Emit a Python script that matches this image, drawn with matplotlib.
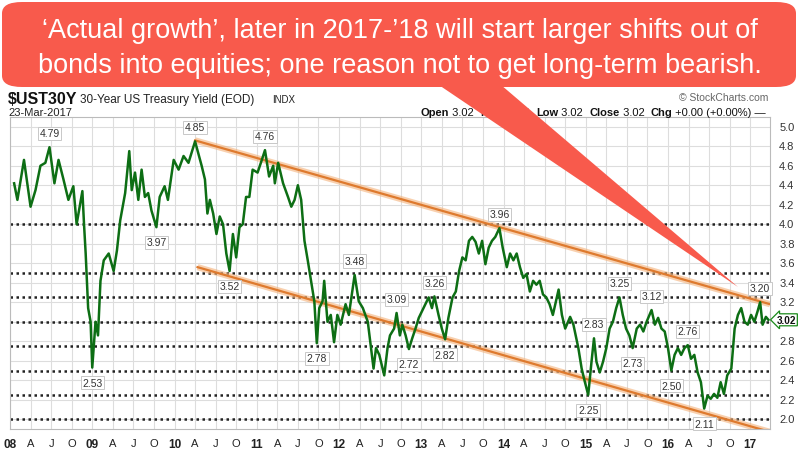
import numpy as np
import matplotlib.pyplot as plt
from matplotlib.patches import FancyBboxPatch, Polygon

plt.rcParams['font.family'] = ['Liberation Sans', 'DejaVu Sans']

# 30-year yield (decimal year, percent)
years = [2008.05, 2008.09, 2008.17, 2008.25, 2008.31, 2008.37, 2008.43, 2008.48, 2008.54, 2008.59,
         2008.65, 2008.71, 2008.77, 2008.81, 2008.88, 2008.90, 2008.92, 2008.95, 2008.98, 2009.00,
         2009.04, 2009.07, 2009.10, 2009.14, 2009.20, 2009.26, 2009.30, 2009.34, 2009.40, 2009.45,
         2009.48, 2009.52, 2009.56, 2009.60, 2009.64, 2009.68, 2009.72, 2009.78, 2009.82, 2009.88,
         2009.92, 2009.99, 2010.05, 2010.11, 2010.17, 2010.25, 2010.33, 2010.37, 2010.40, 2010.43,
         2010.47, 2010.51, 2010.55, 2010.59, 2010.63, 2010.67, 2010.71, 2010.75, 2010.79, 2010.83,
         2010.87, 2010.91, 2010.95, 2011.01, 2011.05, 2011.10, 2011.15, 2011.20, 2011.22, 2011.26,
         2011.32, 2011.38, 2011.42, 2011.46, 2011.50, 2011.54, 2011.58, 2011.62, 2011.66, 2011.70,
         2011.73, 2011.76, 2011.80, 2011.82, 2011.86, 2011.90, 2011.94, 2011.98, 2012.02, 2012.08,
         2012.12, 2012.19, 2012.24, 2012.29, 2012.35, 2012.39, 2012.42, 2012.45, 2012.49, 2012.55,
         2012.59, 2012.62, 2012.67, 2012.70, 2012.74, 2012.77, 2012.81, 2012.85, 2012.89, 2012.93,
         2012.97, 2013.01, 2013.05, 2013.09, 2013.13, 2013.16, 2013.21, 2013.25, 2013.29, 2013.33,
         2013.38, 2013.42, 2013.46, 2013.50, 2013.54, 2013.58, 2013.62, 2013.66, 2013.70, 2013.74,
         2013.78, 2013.82, 2013.86, 2013.90, 2013.95, 2013.99, 2014.04, 2014.08, 2014.12, 2014.16,
         2014.20, 2014.24, 2014.28, 2014.32, 2014.36, 2014.40, 2014.44, 2014.48, 2014.52, 2014.56,
         2014.60, 2014.67, 2014.71, 2014.75, 2014.81, 2014.85, 2014.91, 2014.95, 2014.99, 2015.03,
         2015.07, 2015.10, 2015.13, 2015.17, 2015.21, 2015.25, 2015.29, 2015.33, 2015.37, 2015.41,
         2015.45, 2015.49, 2015.53, 2015.57, 2015.62, 2015.66, 2015.70, 2015.74, 2015.80, 2015.84,
         2015.88, 2015.92, 2015.96, 2016.00, 2016.04, 2016.08, 2016.12, 2016.16, 2016.20, 2016.24,
         2016.28, 2016.32, 2016.36, 2016.40, 2016.44, 2016.48, 2016.52, 2016.56, 2016.60, 2016.64,
         2016.68, 2016.72, 2016.77, 2016.81, 2016.85, 2016.89, 2016.93, 2016.97, 2017.01, 2017.05,
         2017.09, 2017.12, 2017.15, 2017.19, 2017.22]
yields = [4.42, 4.25, 4.66, 4.18, 4.35, 4.60, 4.63, 4.79, 4.42, 4.66,
          4.46, 4.25, 4.39, 4.00, 4.34, 4.00, 3.70, 3.14, 3.00, 2.53,
          3.00, 2.86, 3.42, 3.63, 3.70, 3.52, 3.73, 4.04, 4.32, 4.75,
          4.35, 4.53, 4.25, 4.56, 4.28, 4.32, 4.14, 3.97, 4.28, 4.39,
          4.25, 4.66, 4.56, 4.70, 4.63, 4.85, 4.60, 4.46, 4.11, 4.25,
          4.11, 3.90, 4.08, 4.00, 3.70, 3.52, 3.90, 3.66, 3.97, 4.00,
          4.28, 4.28, 4.56, 4.53, 4.63, 4.76, 4.49, 4.60, 4.42, 4.63,
          4.42, 4.28, 4.18, 4.25, 4.40, 4.25, 3.83, 3.63, 3.42, 3.21,
          2.78, 3.14, 3.21, 3.42, 3.00, 3.07, 2.79, 3.07, 2.97, 3.18,
          3.07, 3.48, 3.21, 3.14, 3.00, 2.73, 2.52, 2.73, 2.66, 2.45,
          2.73, 2.86, 2.93, 3.09, 2.86, 2.97, 2.86, 2.72, 2.83, 2.93,
          3.04, 3.11, 3.18, 3.25, 3.14, 3.26, 3.07, 2.93, 2.82, 3.04,
          3.25, 3.31, 3.52, 3.66, 3.63, 3.83, 3.87, 3.82, 3.70, 3.83,
          3.59, 3.76, 3.83, 3.87, 3.96, 3.76, 3.56, 3.70, 3.63, 3.70,
          3.56, 3.45, 3.49, 3.31, 3.42, 3.38, 3.42, 3.28, 3.25, 3.18,
          3.07, 3.33, 3.07, 2.93, 3.05, 2.97, 2.73, 2.52, 2.38, 2.25,
          2.59, 2.83, 2.59, 2.48, 2.59, 2.73, 2.93, 3.00, 3.14, 3.25,
          3.07, 2.93, 2.86, 2.73, 2.93, 2.97, 2.90, 3.00, 3.12, 2.97,
          3.04, 2.93, 2.90, 2.73, 2.50, 2.66, 2.73, 2.66, 2.73, 2.76,
          2.62, 2.66, 2.48, 2.38, 2.11, 2.24, 2.21, 2.26, 2.22, 2.38,
          2.26, 2.45, 2.52, 2.93, 3.07, 3.14, 3.00, 2.97, 3.07, 3.00,
          3.11, 3.20, 2.97, 3.05, 3.02]

# labelled highs and lows
peak_years = [2008.48, 2009.00, 2009.78, 2010.25, 2010.67, 2011.10, 2011.73, 2012.19, 2012.70, 2012.85,
              2013.16, 2013.29, 2013.95, 2015.03, 2015.10, 2015.41, 2015.57, 2015.80, 2016.04, 2016.24,
              2016.44, 2017.12]
peak_values = [4.79, 2.53, 3.97, 4.85, 3.52, 4.76, 2.78, 3.48, 3.09, 2.72,
               3.26, 2.82, 3.96, 2.25, 2.83, 3.25, 2.73, 3.12, 2.50, 2.76,
               2.11, 3.20]
peak_high = [True, False, False, True, False, True, False, True, True, False,
             True, False, True, False, True, True, False, True, False, True,
             False, True]

upper_x = [2010.25, 2017.24]
upper_y = [4.86, 3.18]
lower_x = [2010.28, 2017.24]
lower_y = [3.56, 1.87]

dotted_levels = [4.0, 3.5, 3.25, 3.0, 2.75, 2.5, 2.25, 2.0]
year_labels = ['08', '09', '10', '11', '12', '13', '14', '15', '16', '17']
quarter_labels = ['A', 'J', 'O']
last_value = 3.02

W, H = 800, 452
fig = plt.figure(figsize=(W / 100, H / 100), dpi=100)
fig.patch.set_facecolor('white')

def fx(px):
    return px / W

def fy(py):
    return 1 - py / H

ax = fig.add_axes([fx(10), fy(430), fx(770) - fx(10), fy(118) - fy(430)])
ax.set_xlim(2008.0, 2017.24)
ax.set_ylim(1.9, 5.1)

# light grid
quarters = np.arange(2008.0, 2017.25, 0.25)
for q in quarters:
    ax.axvline(q, color='#dddddd', lw=0.8, zorder=0)
for lv in np.arange(2.0, 5.01, 0.2):
    ax.axhline(lv, color='#dddddd', lw=0.8, zorder=0)
for lv in dotted_levels:
    ax.axhline(lv, color='#222222', lw=1.8, ls=(0, (1, 1.4)), zorder=1)

# trend channel
for tx, ty in [(upper_x, upper_y), (lower_x, lower_y)]:
    ax.plot(tx, ty, color='#f4b27a', lw=4.5, alpha=0.6, zorder=2, solid_capstyle='butt')
    ax.plot(tx, ty, color='#de7a2e', lw=1.6, zorder=3)

ax.plot(years, yields, color='#0d6e14', lw=1.8, zorder=4)

for xv, yv, hi in zip(peak_years, peak_values, peak_high):
    ax.annotate(f"{yv:.2f}", (xv, yv), xytext=(0, 10 if hi else -11), textcoords='offset points',
                ha='center', va='center', fontsize=7.5, color='#333333', zorder=5,
                bbox=dict(boxstyle='square,pad=0.15', fc='white', ec='#c8c8c8', lw=0.7),
                annotation_clip=False)

# axes cosmetics
ax.set_xticks([])
ax.set_yticks([])
for s in ax.spines.values():
    s.set_color('#bbbbbb')
    s.set_linewidth(0.8)

for i, lab in enumerate(year_labels):
    ax.text(2008 + i, -0.03, lab, transform=ax.get_xaxis_transform(), ha='center', va='top',
            fontsize=8.5, fontweight='bold', color='#222222')
    for j, ql in enumerate(quarter_labels):
        xq = 2008 + i + 0.25 * (j + 1)
        if xq < 2017.24:
            ax.text(xq, -0.03, ql, transform=ax.get_xaxis_transform(), ha='center', va='top',
                    fontsize=8, color='#222222')

for lv in np.arange(2.0, 5.01, 0.2):
    if abs(lv - 3.0) < 0.01:
        continue  # hidden behind the last-value box
    ax.text(1.012, lv, f"{lv:.1f}", transform=ax.get_yaxis_transform(), ha='left', va='center',
            fontsize=8, color='#333333')
ax.text(1.009, last_value, f"{last_value:.2f}", transform=ax.get_yaxis_transform(), ha='left',
        va='center', fontsize=7.2, fontweight='bold', color='#111111', zorder=6,
        bbox=dict(boxstyle='larrow,pad=0.1', fc='white', ec='#1a8a1a', lw=0.9))

# header
fig.text(fx(8), fy(100), '$UST30Y', fontsize=11.5, fontweight='bold', color='#111111', va='center')
fig.text(fx(80), fy(100), '30-Year US Treasury Yield (EOD)', fontsize=8.5, color='#222222', va='center')
fig.text(fx(272), fy(100), 'INDX', fontsize=7, color='#222222', va='center')
fig.text(fx(8), fy(113), '23-Mar-2017', fontsize=8, color='#222222', va='center')
fig.text(fx(768), fy(98), '\u00a9 StockCharts.com', fontsize=7.5, color='#666666', va='center', ha='right')

parts = [('Open', True), (' 3.02  ', False), ('High', True), (' 3.02  ', False), ('Low', True),
         (' 3.02  ', False), ('Close', True), (' 3.02  ', False), ('Chg', True),
         (' +0.00 (+0.00%) \u2014', False)]
fig.canvas.draw()
renderer = fig.canvas.get_renderer()
widths = []
for txt, bold in parts:
    t = fig.text(0, 0, txt, fontsize=8, fontweight='bold' if bold else 'normal')
    widths.append(t.get_window_extent(renderer).width)
    t.remove()
xpos = 766 - sum(widths)
for (txt, bold), w in zip(parts, widths):
    fig.text(fx(xpos), fy(113), txt, fontsize=8, fontweight='bold' if bold else 'normal',
             color='#111111', va='center')
    xpos += w

# callout bubble
red = '#f85a4c'
box = FancyBboxPatch((fx(2), fy(88)), fx(796) - fx(2), fy(3) - fy(88),
                     boxstyle='round,pad=0,rounding_size=0.025', transform=fig.transFigure,
                     fc=red, ec='none', zorder=10)
fig.patches.append(box)
tail = Polygon([(fx(430), fy(80)), (fx(494), fy(80)), (fx(738), fy(288))], closed=True,
               transform=fig.transFigure, fc=red, ec='none', zorder=10)
fig.patches.append(tail)
fig.text(0.5, fy(38.5), '\u2018Actual growth\u2019, later in 2017-\u201918 will start larger shifts out of',
         ha='center', va='baseline', fontsize=19.5, color='white', zorder=11)
fig.text(0.5, fy(73), 'bonds into equities; one reason not to get long-term bearish.',
         ha='center', va='baseline', fontsize=19.5, color='white', zorder=11)

fig.savefig('out.png', dpi=100)
